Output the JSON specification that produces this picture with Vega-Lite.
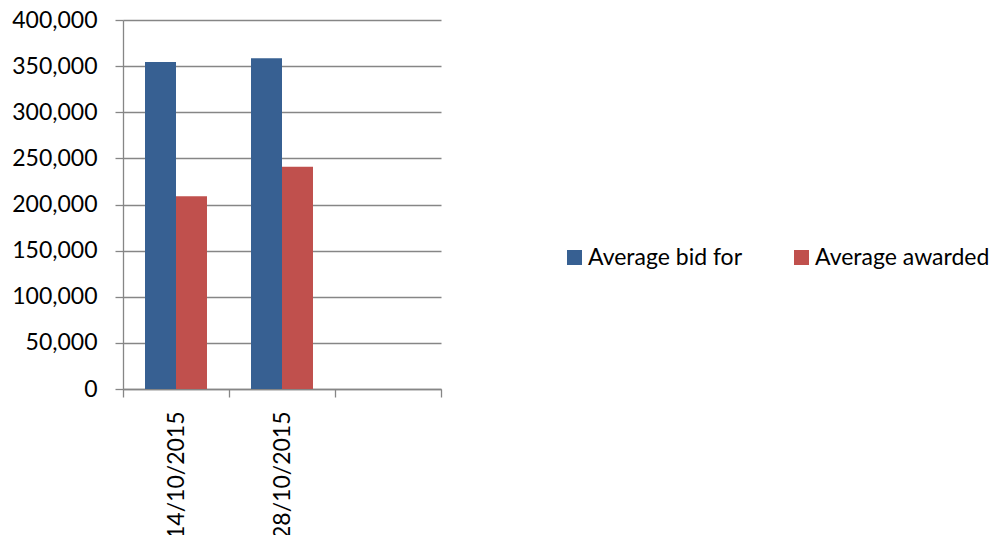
{
  "$schema": "https://vega.github.io/schema/vega-lite/v6.json",
  "width": 318,
  "height": 369,
  "autosize": "none",
  "padding": {"left": 123, "top": 20, "right": 553, "bottom": 146},
  "background": "white",
  "data": {
    "values": [
      {"date": "14/10/2015", "series": "Average bid for", "value": 354500},
      {"date": "14/10/2015", "series": "Average awarded", "value": 209000},
      {"date": "28/10/2015", "series": "Average bid for", "value": 358500},
      {"date": "28/10/2015", "series": "Average awarded", "value": 240800}
    ]
  },
  "mark": {"type": "bar"},
  "encoding": {
    "x": {
      "field": "date",
      "type": "nominal",
      "title": null,
      "scale": {"domain": ["14/10/2015", "28/10/2015", " "], "paddingInner": 0, "paddingOuter": 0},
      "axis": {
        "labelAngle": -90,
        "tickBand": "extent",
        "grid": false,
        "tickSize": 8,
        "labelPadding": 14,
        "labelFontSize": 23
      }
    },
    "xOffset": {
      "field": "series",
      "type": "nominal",
      "sort": ["Average bid for", "Average awarded"],
      "scale": {"paddingInner": 0, "paddingOuter": 0.71}
    },
    "y": {
      "field": "value",
      "type": "quantitative",
      "title": null,
      "scale": {"domain": [0, 400000], "nice": false},
      "axis": {
        "values": [0, 50000, 100000, 150000, 200000, 250000, 300000, 350000, 400000],
        "format": ",d",
        "grid": true,
        "tickSize": 8,
        "labelPadding": 18,
        "labelFontSize": 23
      }
    },
    "color": {
      "field": "series",
      "type": "nominal",
      "sort": ["Average bid for", "Average awarded"],
      "scale": {"domain": ["Average bid for", "Average awarded"], "range": ["#376092", "#C0504D"]},
      "legend": {
        "title": null,
        "orient": "none",
        "direction": "horizontal",
        "legendX": 440,
        "legendY": 226,
        "symbolType": "square",
        "symbolSize": 225,
        "symbolStrokeWidth": 0,
        "symbolOpacity": 1,
        "labelOffset": 2,
        "columnPadding": 47,
        "labelFontSize": 23,
        "labelLimit": 400,
        "gridAlign": "none"
      }
    }
  },
  "config": {
    "view": {"stroke": null},
    "font": "Lato",
    "axis": {
      "labelFont": "Lato",
      "labelColor": "#000000",
      "domainColor": "#868686",
      "tickColor": "#868686",
      "gridColor": "#868686",
      "domainWidth": 1.3,
      "tickWidth": 1.3,
      "gridWidth": 1.3
    },
    "legend": {"labelFont": "Lato", "labelColor": "#000000"}
  }
}
